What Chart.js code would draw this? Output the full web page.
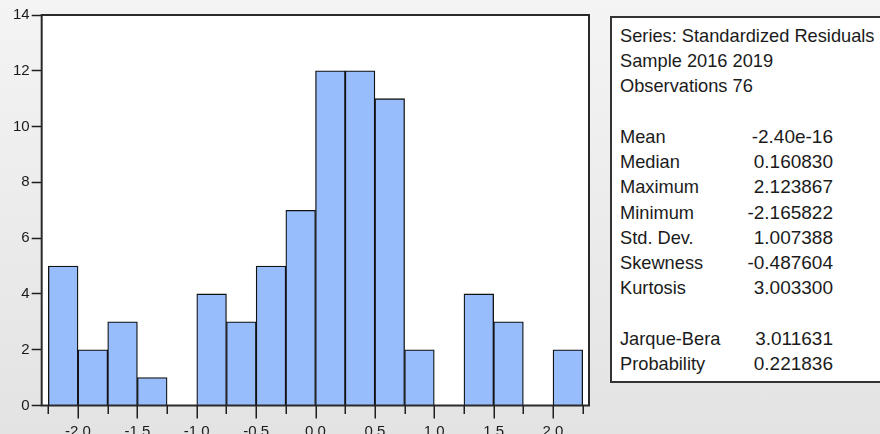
<!DOCTYPE html>
<html>
<head>
<meta charset="utf-8">
<script src="https://cdn.jsdelivr.net/npm/chart.js@4.4.1/dist/chart.umd.min.js"></script>
<style>
  html, body { margin: 0; padding: 0; }
  body {
    width: 880px; height: 434px; overflow: hidden; position: relative;
    background: linear-gradient(#f4f4f4, #e3e3e3);
    font-family: "Liberation Sans", Arial, sans-serif;
  }
  #wrap { position: absolute; left: 0; top: 0; width: 600px; height: 470px; }
  #stats {
    position: absolute; left: 610px; top: 16px; width: 300px; height: 363px;
    background: #fff; border: 2px solid #333; box-sizing: content-box;
    color: #1b1b1b; font-size: 19px; line-height: 25.23px;
  }
  #stats .row { position: absolute; left: 0; height: 25.23px; width: 300px; white-space: nowrap; }
  #stats .name { position: absolute; left: 8px; transform: scaleX(0.96); transform-origin: left center; }
  #stats .val { position: absolute; right: 79px; }
</style>
</head>
<body>
<div id="wrap"><canvas id="hist"></canvas></div>
<div id="stats"></div>
<script>
// Histogram bins: centres and counts
const binCenters = [-2.125, -1.875, -1.625, -1.375, -1.125, -0.875, -0.625, -0.375, -0.125,
                    0.125, 0.375, 0.625, 0.875, 1.125, 1.375, 1.625, 1.875, 2.125];
const counts = [5, 2, 3, 1, 0, 4, 3, 5, 7, 12, 12, 11, 2, 0, 4, 3, 0, 2];

// Axis ticks
const xTickLabels = ['-2.0', '-1.5', '-1.0', '-0.5', '0.0', '0.5', '1.0', '1.5', '2.0'];
const yTickValues = [0, 2, 4, 6, 8, 10, 12, 14];

// Descriptive statistics panel
const headerLines = ['Series: Standardized Residuals', 'Sample 2016 2019', 'Observations 76'];
const statNames = ['Mean', 'Median', 'Maximum', 'Minimum', 'Std. Dev.', 'Skewness', 'Kurtosis'];
const statValues = ['-2.40e-16', '0.160830', '2.123867', '-2.165822', '1.007388', '-0.487604', '3.003300'];
const testNames = ['Jarque-Bera', 'Probability'];
const testValues = ['3.011631', '0.221836'];

// build the statistics panel
(function () {
  const box = document.getElementById('stats');
  const pitch = 25.23, top0 = 5;
  const rows = [];
  headerLines.forEach(h => rows.push([h, '']));
  rows.push(null);
  statNames.forEach((n, i) => rows.push([n, statValues[i]]));
  rows.push(null);
  testNames.forEach((n, i) => rows.push([n, testValues[i]]));
  rows.forEach((r, i) => {
    if (!r) return;
    const d = document.createElement('div');
    d.className = 'row';
    d.style.top = (top0 + i * pitch) + 'px';
    const a = document.createElement('span');
    a.className = 'name'; a.textContent = r[0];
    d.appendChild(a);
    if (r[1]) {
      const b = document.createElement('span');
      b.className = 'val'; b.textContent = r[1];
      d.appendChild(b);
    }
    box.appendChild(d);
  });
})();

const binWidth = binCenters[1] - binCenters[0];
const binEdges = binCenters.map(c => c - binWidth / 2).concat([binCenters[binCenters.length - 1] + binWidth / 2]);
const xMajor = xTickLabels.map(parseFloat);

// white plot background, frame and x-axis tick marks
const framePlugin = {
  id: 'frame',
  beforeDatasetsDraw(chart) {
    const a = chart.chartArea, ctx = chart.ctx;
    ctx.save();
    ctx.fillStyle = '#ffffff';
    ctx.fillRect(a.left, a.top, a.right - a.left, a.bottom - a.top);
    ctx.restore();
  },
  afterDatasetsDraw(chart) {
    const a = chart.chartArea, ctx = chart.ctx, xs = chart.scales.x;
    ctx.save();
    ctx.strokeStyle = '#2a2a2a';
    ctx.lineWidth = 2;
    ctx.strokeRect(a.left, a.top, a.right - a.left, a.bottom - a.top);
    ctx.lineWidth = 1.5;
    ctx.strokeStyle = '#1e1e1e';
    binEdges.forEach(v => {
      const major = xMajor.some(m => Math.abs(m - v) < 1e-9);
      const px = Math.round(xs.getPixelForValue(v)) + 0.25;
      ctx.beginPath();
      ctx.moveTo(px, a.bottom);
      ctx.lineTo(px, a.bottom + (major ? 13 : 8.5));
      ctx.stroke();
    });
    ctx.restore();
  }
};

new Chart(document.getElementById('hist'), {
  type: 'bar',
  data: {
    datasets: [{
      data: binCenters.map((c, i) => ({ x: c, y: counts[i] })),
      backgroundColor: '#97bdfd',
      borderColor: '#111111',
      borderWidth: 1.3,
      borderSkipped: 'start',
      barPercentage: 1,
      categoryPercentage: 1,
      grouped: false
    }]
  },
  options: {
    responsive: true,
    maintainAspectRatio: false,
    animation: false,
    events: [],
    layout: { padding: { left: 11, right: 11, top: 15, bottom: 12.5 } },
    plugins: { legend: { display: false }, tooltip: { enabled: false } },
    scales: {
      x: {
        type: 'linear',
        min: -2.306,
        max: 2.303,
        offset: false,
        grid: { display: false, drawTicks: false, offset: false },
        border: { display: false },
        afterBuildTicks: s => { s.ticks = xMajor.map(v => ({ value: v })); },
        ticks: {
          autoSkip: false, maxRotation: 0, padding: 17,
          color: '#1b1b1b',
          font: { family: 'Liberation Sans', size: 15 },
          callback: v => xTickLabels[xMajor.findIndex(m => Math.abs(m - v) < 1e-9)]
        }
      },
      y: {
        min: 0,
        max: 14,
        afterBuildTicks: s => { s.ticks = yTickValues.map(v => ({ value: v })); },
        grid: { drawOnChartArea: false, drawTicks: true, tickLength: 10, tickColor: '#1e1e1e', tickWidth: 1.5 },
        border: { display: false },
        ticks: {
          padding: 2,
          color: '#1b1b1b',
          font: { family: 'Liberation Sans', size: 15 }
        }
      }
    }
  },
  plugins: [framePlugin]
});
</script>
</body>
</html>
